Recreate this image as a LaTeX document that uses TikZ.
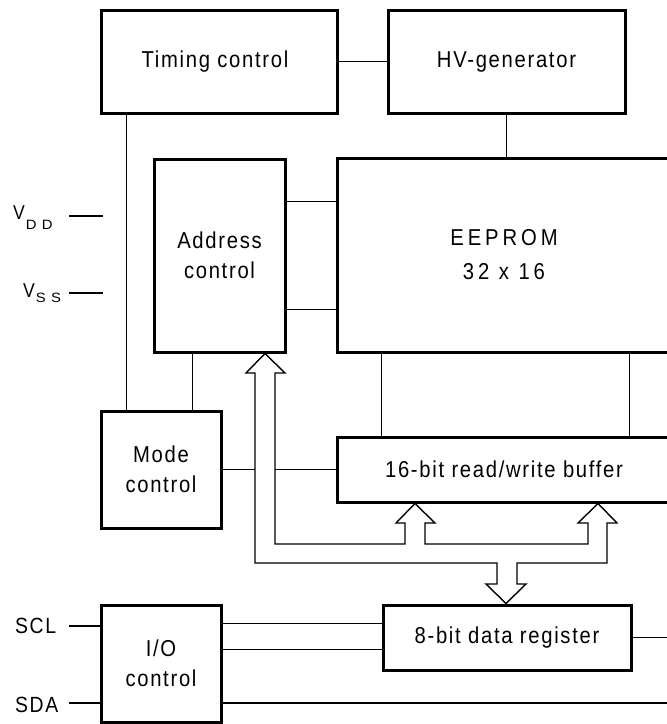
\documentclass[tikz,border=0pt]{standalone}
\usepackage{fontspec}
\setmainfont{Liberation Sans}[LetterSpace=7.4, FakeStretch=0.88]
\newfontfamily\widefont{Liberation Sans}[LetterSpace=17, FakeStretch=0.88]
\newfontfamily\subfont{Liberation Sans}[LetterSpace=39, FakeStretch=1.1]
\begin{document}
\begin{tikzpicture}[x=1pt,y=-1pt,
  blk/.style={draw, line width=3pt, inner sep=0pt, align=center,
    font=\fontsize{23}{30}\selectfont},
  wire/.style={line width=1.4pt},
  lbl/.style={inner sep=0pt, font=\fontsize{20}{24}\selectfont}]
\useasboundingbox (0,0) rectangle (667,724);

% blocks
\node[blk, minimum width=236pt, minimum height=103pt] (timing) at (219,61.5) {\hspace*{-8pt}Timing control};
\node[blk, minimum width=237pt, minimum height=103pt] (hv) at (506.5,61.5) {HV-generator};
\node[blk, minimum width=131pt, minimum height=193pt] (addr) at (219.5,255.5) {Address\\control};
\node[blk, minimum width=334pt, minimum height=194pt, font=\widefont\fontsize{23}{34}\selectfont] (eeprom) at (504,255) {EEPROM\\32 x 16};
\node[blk, minimum width=334pt, minimum height=65pt] (buf) at (504,469.5) {16-bit read/write buffer};
\node[blk, minimum width=120pt, minimum height=117pt] (mode) at (161,469.5) {Mode\\control};
\node[blk, minimum width=248pt, minimum height=65pt] (dreg) at (507,637.5) {8-bit data register};
\node[blk, minimum width=120pt, minimum height=117pt] (io) at (161,663.5) {I/O\\control};

% pin labels
\node[lbl, anchor=base west] (vddl) at (13,219) {V\hspace{1pt}\raisebox{-10pt}{\subfont\fontsize{13.5}{14}\selectfont DD}};
\node[lbl, anchor=base west] (vssl) at (23,297) {V\hspace{1pt}\raisebox{-5pt}{\subfont\fontsize{13.5}{14}\selectfont SS}};
\node[lbl, anchor=base west, font=\fontsize{22}{24}\selectfont] (scll) at (15,633) {SCL};
\node[lbl, anchor=base west, font=\fontsize{22}{24}\selectfont] (sdal) at (15,712) {SDA};

\coordinate (vdd0) at (69,216);
\coordinate (vdd1) at (103,216);
\coordinate (vss0) at (69,293);
\coordinate (vss1) at (103,293);
\coordinate (scl) at (69,626);
\coordinate (sda) at (69,703);
\coordinate (rightend) at (690,703);

% connectors
\draw[wire] (vdd0) -- (vdd1);
\draw[wire] (vss0) -- (vss1);
\draw[wire] (timing.east) -- (hv.west);
\draw[wire] (hv.south) -- (hv.south |- eeprom.north);
\draw[wire] ([xshift=27pt]timing.south west) -- ([xshift=27pt]mode.north west);
\draw[wire] ([xshift=40pt]addr.south west) coordinate (a1) -- (a1 |- mode.north);
\draw[wire] ([yshift=-44pt]addr.north east) coordinate (b1) -- (b1 -| eeprom.west);
\draw[wire] ([yshift=44pt]addr.south east) coordinate (b2) -- (b2 -| eeprom.west);
\draw[wire] ([xshift=46pt]eeprom.south west) coordinate (e1) -- (e1 |- buf.north);
\draw[wire] ([xshift=294pt]eeprom.south west) coordinate (e2) -- (e2 |- buf.north);
\draw[wire] (mode.east) -- (mode.east -| buf.west);
\draw[wire] (scl) -- (scl -| io.west);
\draw[wire] (sda) -- (sda -| io.west);
\draw[wire] ([yshift=-20pt]io.north east) coordinate (c1) -- (c1 -| dreg.west);
\draw[wire] ([yshift=-46pt]io.north east) coordinate (c2) -- (c2 -| dreg.west);
\draw[wire] (io.east |- sda) -- (rightend);
\draw[wire] (dreg.east) -- (dreg.east -| rightend);

% bus
\draw[wire, fill=white, line join=miter]
  (265,353.5) -- (285,373) -- (275,373) -- (275,544) -- (405,544) -- (405,523)
  -- (396,523) -- (415,503.5) -- (435,523) -- (425,523) -- (425,544)
  -- (588,544) -- (588,523) -- (578,523) -- (598,503.5) -- (617,523)
  -- (607,523) -- (607,563) -- (517,563) -- (517,584) -- (526,584)
  -- (506,603.5) -- (486,584) -- (497,584) -- (497,563) -- (255,563)
  -- (255,373) -- (246,373) -- cycle;
\end{tikzpicture}
\end{document}
